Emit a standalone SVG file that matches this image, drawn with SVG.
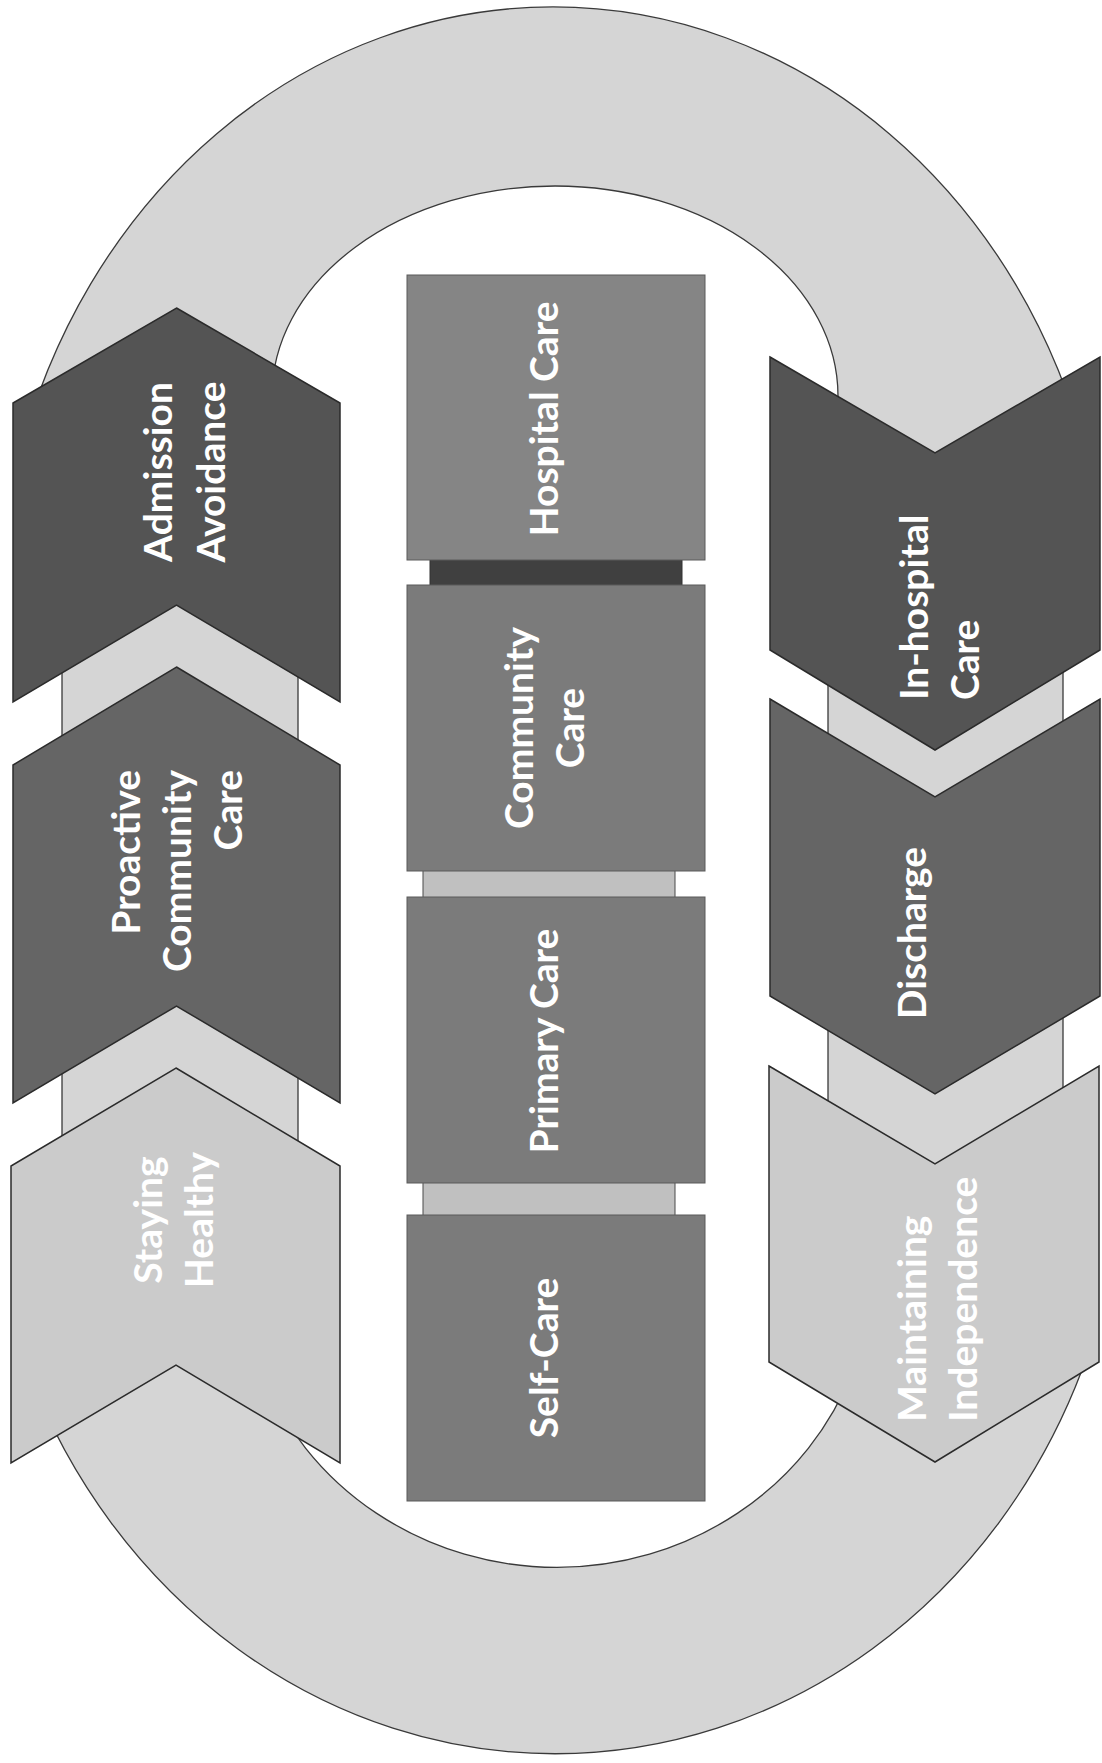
<svg xmlns="http://www.w3.org/2000/svg" width="1102" height="1763" viewBox="0 0 1102 1763">
<style>
.track{fill:#d5d5d5;stroke:#3a3a3a;stroke-width:1.3;fill-rule:evenodd}
.chev{stroke:#2b2b2b;stroke-width:1.5;stroke-linejoin:miter}
.dark{fill:#545454}
.mid{fill:#656565}
.light{fill:#cbcbcb}
.box{fill:#7b7b7b;stroke:#5a5a5a;stroke-width:1}
.lbl{fill:#ffffff;font-family:Lato,"Open Sans",sans-serif;font-weight:700;font-size:39px}
.link-dark{fill:#404040;stroke:#333;stroke-width:1}
.link-light{fill:#c0c0c0;stroke:#4a4a4a;stroke-width:1}
</style>
<rect width="1102" height="1763" fill="#ffffff"/>
<g id="track">
<path class="track" d="M62 500 L18 462 A555 620 0 0 1 1088 462 L1063 500 L1063 1340 L1082 1370 A570 620 0 0 1 28 1370 L62 1420 Z M298 500 L298 1420 L261 1370 A315 300 0 0 0 853 1370 L828 1340 L828 500 L838 420 L838 396 A283 210 0 0 0 272 396 L272 420 Z"/>
</g>
<g id="connectors">
<rect class="link-dark" x="430" y="555" width="252" height="35"/>
<rect class="link-light" x="423" y="866" width="252" height="36"/>
<rect class="link-light" x="423" y="1178" width="252" height="42"/>
</g>
<g id="admission-avoidance">
<path class="chev dark" d="M176.5 308 L340 403 L340 702 L176.5 605 L13 702 L13 403 Z"/>
<text class="lbl" text-anchor="middle" transform="translate(172,472) rotate(-90)"><tspan x="0" y="0">Admission</tspan><tspan x="0" y="53">Avoidance</tspan></text>
</g>
<g id="proactive-community-care">
<path class="chev mid" d="M176.5 667 L340 765 L340 1103 L176.5 1006 L13 1103 L13 765 Z"/>
<text class="lbl" text-anchor="end" transform="translate(140,770) rotate(-90)"><tspan x="0" y="0">Proactive</tspan><tspan x="0" y="51">Community</tspan><tspan x="0" y="102">Care</tspan></text>
</g>
<g id="staying-healthy">
<path class="chev light" d="M176 1068 L340 1166 L340 1463 L176 1365 L11 1463 L11 1166 Z"/>
<text class="lbl" text-anchor="middle" transform="translate(162,1220) rotate(-90)"><tspan x="0" y="0">Staying</tspan><tspan x="0" y="51">Healthy</tspan></text>
</g>
<g id="in-hospital-care">
<path class="chev dark" d="M770 357 L935 453 L1100 357 L1100 650 L935 750 L770 650 Z"/>
<text class="lbl" text-anchor="start" transform="translate(928,700) rotate(-90)"><tspan x="0" y="0">In-hospital</tspan><tspan x="0" y="51">Care</tspan></text>
</g>
<g id="discharge">
<path class="chev mid" d="M770 699 L935 797 L1100 699 L1100 996 L935 1094 L770 996 Z"/>
<text class="lbl" text-anchor="middle" transform="translate(926,933) rotate(-90)">Discharge</text>
</g>
<g id="maintaining-independence">
<path class="chev light" d="M769 1066 L935 1164 L1099 1066 L1099 1362 L935 1462 L769 1362 Z"/>
<text class="lbl" text-anchor="start" transform="translate(926,1422) rotate(-90)"><tspan x="0" y="0">Maintaining</tspan><tspan x="0" y="51">Independence</tspan></text>
</g>
<g id="hospital-care">
<rect class="box" x="407" y="275" width="298" height="285" style="fill:#858585"/>
<text class="lbl" text-anchor="middle" transform="translate(558,419) rotate(-90)">Hospital Care</text>
</g>
<g id="community-care">
<rect class="box" x="407" y="585" width="298" height="286"/>
<text class="lbl" text-anchor="middle" transform="translate(533,728) rotate(-90)"><tspan x="0" y="0">Community</tspan><tspan x="0" y="51">Care</tspan></text>
</g>
<g id="primary-care">
<rect class="box" x="407" y="897" width="298" height="286"/>
<text class="lbl" text-anchor="middle" transform="translate(558,1041) rotate(-90)">Primary Care</text>
</g>
<g id="self-care">
<rect class="box" x="407" y="1215" width="298" height="286"/>
<text class="lbl" text-anchor="middle" transform="translate(558,1358) rotate(-90)">Self-Care</text>
</g>
</svg>
